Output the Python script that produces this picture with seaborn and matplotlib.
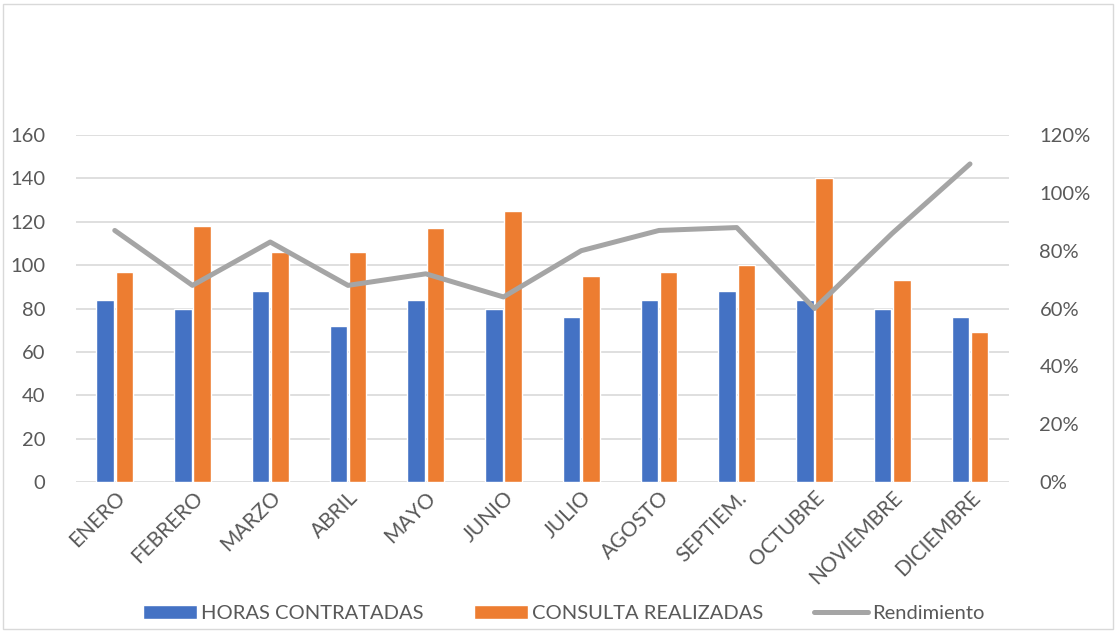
import numpy as np
import pandas as pd
import matplotlib
matplotlib.use("Agg")
import matplotlib.pyplot as plt
from matplotlib.patches import Rectangle
from matplotlib.ticker import PercentFormatter
import seaborn as sns

# data
meses = ["ENERO", "FEBRERO", "MARZO", "ABRIL", "MAYO", "JUNIO", "JULIO",
         "AGOSTO", "SEPTIEM.", "OCTUBRE", "NOVIEMBRE", "DICIEMBRE"]
horas = [84, 80, 88, 72, 84, 80, 76, 84, 88, 84, 80, 76]
consultas = [97, 118, 106, 106, 117, 125, 95, 97, 100, 140, 93, 69]
rendimiento = [0.87, 0.68, 0.83, 0.68, 0.72, 0.64, 0.80, 0.87, 0.88, 0.60, 0.86, 1.10]

sns.set_theme(style="white")
plt.rcParams["font.family"] = ["Lato", "DejaVu Sans"]

txt = "#595959"
grid = "#D9D9D9"

df = pd.DataFrame({"mes": meses * 2,
                   "valor": horas + consultas,
                   "serie": ["HORAS CONTRATADAS"] * 12 + ["CONSULTA REALIZADAS"] * 12})

fig = plt.figure(figsize=(11.16, 6.33), dpi=100)
ax = fig.add_axes([0.068, 0.2385, 0.836, 0.5482])

sns.barplot(data=df, x="mes", y="valor", hue="serie", order=meses,
            palette=["#4472C4", "#ED7D31"], width=0.5, gap=0.1,
            saturation=1, ax=ax)
ax.set_ylim(0, 160)
ax.set_yticks(range(0, 161, 20))
ax.set_xlim(-0.5, 11.5)
ax.yaxis.grid(True, color=grid, linewidth=1.2)
ax.set_axisbelow(True)
for s in ax.spines.values():
    s.set_visible(False)
ax.set_xlabel("")
ax.set_ylabel("")
ax.tick_params(axis="y", length=0, labelsize=14.5, labelcolor=txt, pad=22)
ax.tick_params(axis="x", length=0, labelsize=15, labelcolor=txt, pad=4)
plt.setp(ax.get_xticklabels(), rotation=45, ha="right", rotation_mode="anchor")

ax2 = ax.twinx()
sns.lineplot(x=np.arange(len(meses)), y=rendimiento, color="#A5A5A5",
             linewidth=3.6, ax=ax2, label="Rendimiento")
ax2.set_ylim(0, 1.2)
ax2.set_yticks(np.arange(0, 1.21, 0.2))
ax2.yaxis.set_major_formatter(PercentFormatter(1.0, decimals=0))
ax2.tick_params(axis="y", length=0, labelsize=14.5, labelcolor=txt, pad=22)
for s in ax2.spines.values():
    s.set_visible(False)

h1, l1 = ax.get_legend_handles_labels()
h2, l2 = ax2.get_legend_handles_labels()
ax.get_legend().remove()
ax2.get_legend().remove()
fig.legend(h1 + h2, l1 + l2, loc="center", bbox_to_anchor=(0.505, 0.031),
           ncol=3, frameon=False, fontsize=14.5, labelcolor=txt,
           handlelength=2.7, handletextpad=0.2, columnspacing=2.5)

fig.add_artist(Rectangle((0.003, 0.006), 0.994, 0.988, transform=fig.transFigure,
                         fill=False, edgecolor=grid, linewidth=1))

fig.savefig("out.png", dpi=100)
